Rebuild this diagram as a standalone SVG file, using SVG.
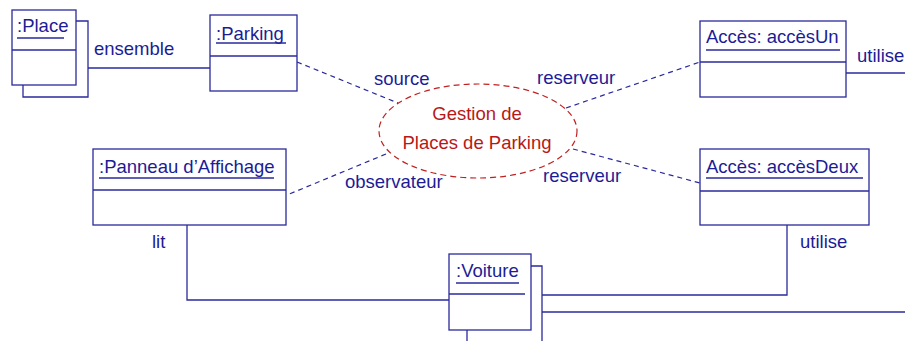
<svg xmlns="http://www.w3.org/2000/svg" width="905" height="341" viewBox="0 0 905 341">
  <style>
    .box { fill: #ffffff; stroke: #2a2a9c; stroke-width: 1.3; }
    .ln { fill: none; stroke: #2a2a9c; stroke-width: 1.3; }
    .dash { fill: none; stroke: #2a2a9c; stroke-width: 1.2; stroke-dasharray: 5 4; }
    .t { font-family: "Liberation Sans", Arial, sans-serif; font-size: 18.5px; fill: #1c1c96; }
    .uc { font-family: "Liberation Sans", Arial, sans-serif; font-size: 18.5px; fill: #b81818; text-anchor: middle; }
    .usecase { fill: #ffffff; stroke: #c02020; stroke-width: 1.2; stroke-dasharray: 6 4; }
  </style>

  <!-- links between objects -->
  <g id="connectors">
    <line class="ln" x1="88" y1="68" x2="210" y2="68"/>
    <polyline class="ln" points="187,225 187,300 449,300"/>
    <line class="ln" x1="846" y1="73" x2="905" y2="73"/>
    <polyline class="ln" points="787,225 787,295 542,295"/>
    <line class="ln" x1="542" y1="312" x2="905" y2="312"/>
    <line class="dash" x1="297" y1="62" x2="398" y2="103"/>
    <line class="dash" x1="566" y1="108" x2="700" y2="62"/>
    <line class="dash" x1="386" y1="154" x2="287" y2="195"/>
    <line class="dash" x1="573" y1="149" x2="700" y2="183"/>
    <text class="t" x="94" y="55">ensemble</text>
    <text class="t" x="374" y="85">source</text>
    <text class="t" x="537" y="84">reserveur</text>
    <text class="t" x="345" y="188">observateur</text>
    <text class="t" x="543" y="182">reserveur</text>
    <text class="t" x="152" y="248">lit</text>
    <text class="t" x="857" y="62">utilise</text>
    <text class="t" x="800" y="248">utilise</text>
  </g>

  <!-- multi-object :Place -->
  <g id="place">
    <polyline class="ln" points="76,21 88,21 88,97 23,97 23,85"/>
    <rect class="box" x="12" y="10" width="64" height="75"/>
    <line class="ln" x1="12" y1="50" x2="76" y2="50"/>
    <text class="t" x="17" y="32">:Place</text>
    <line class="ln" x1="17" y1="38" x2="64" y2="38"/>
  </g>

  <g id="parking">
    <rect class="box" x="210" y="15" width="87" height="76"/>
    <line class="ln" x1="210" y1="56" x2="297" y2="56"/>
    <text class="t" x="216" y="40">:Parking</text>
    <line class="ln" x1="216" y1="43" x2="286" y2="43"/>
  </g>

  <g id="acces-un">
    <rect class="box" x="700" y="21" width="146" height="76"/>
    <line class="ln" x1="700" y1="62" x2="846" y2="62"/>
    <text class="t" x="706" y="43">Accès: accèsUn</text>
    <line class="ln" x1="706" y1="50" x2="840" y2="50"/>
  </g>

  <g id="panneau">
    <rect class="box" x="93" y="149" width="193" height="76"/>
    <line class="ln" x1="93" y1="190" x2="286" y2="190"/>
    <text class="t" x="99" y="173">:Panneau d’Affichage</text>
    <line class="ln" x1="99" y1="178" x2="274" y2="178"/>
  </g>

  <g id="acces-deux">
    <rect class="box" x="700" y="149" width="169" height="76"/>
    <line class="ln" x1="700" y1="191" x2="869" y2="191"/>
    <text class="t" x="706" y="173">Accès: accèsDeux</text>
    <line class="ln" x1="706" y1="178" x2="863" y2="178"/>
  </g>

  <!-- multi-object :Voiture -->
  <g id="voiture">
    <polyline class="ln" points="531,266 542,266 542,341"/>
    <line class="ln" x1="467" y1="330" x2="467" y2="341"/>
    <rect class="box" x="449" y="254" width="82" height="76"/>
    <line class="ln" x1="449" y1="294" x2="525" y2="294"/>
    <text class="t" x="456" y="277">:Voiture</text>
    <line class="ln" x1="456" y1="283" x2="519" y2="283"/>
  </g>

  <!-- collaboration -->
  <g id="gestion">
    <ellipse class="usecase" cx="478" cy="131" rx="99" ry="47"/>
    <text class="uc" x="477" y="120">Gestion de</text>
    <text class="uc" x="477" y="149">Places de Parking</text>
  </g>
</svg>
